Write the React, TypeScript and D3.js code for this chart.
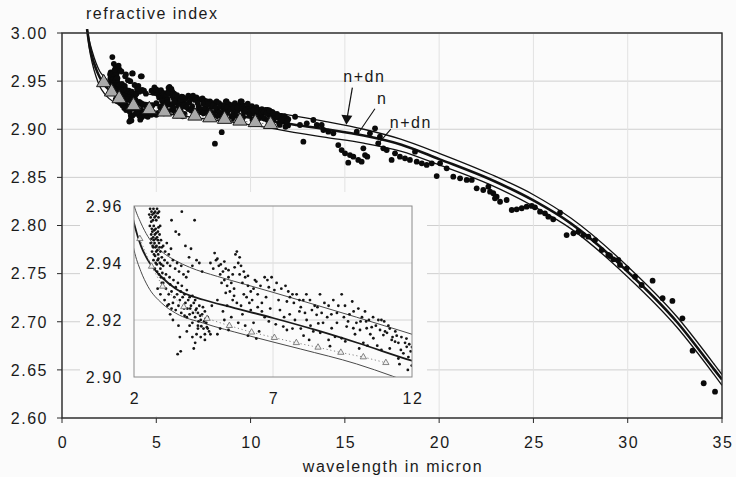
import React from 'react';
import * as d3 from 'd3';

type P = [number, number];

// ---- axis ticks ----
const xTicks = [0, 5, 10, 15, 20, 25, 30, 35];
const yTicks = [2.6, 2.65, 2.7, 2.75, 2.8, 2.85, 2.9, 2.95, 3.0];
const insetXTicks = [2, 7, 12];
const insetYTicks = [2.9, 2.92, 2.94, 2.96];

// ---- model curves (wavelength µm, refractive index) ----
const curveN: P[] = [[1.33,3.004],[1.45,2.988],[1.6,2.975],[1.8,2.963],[2.0,2.954],[2.25,2.946],[2.5,2.941],[3.0,2.935],[3.5,2.931],[4.5,2.9271],[5.5,2.9245],[7,2.9207],[8.5,2.9166],[10,2.9121],[12,2.9057],[14,2.9],[16,2.8935],[18,2.884],[20,2.869],[22.7,2.848],[25,2.826],[27,2.802],[30,2.752],[32.6,2.7],[34.6,2.65],[35,2.64]];
const curveUpper: P[] = [[1.33,3.004],[1.45,2.992],[1.6,2.981],[1.8,2.969],[2.0,2.9603],[2.25,2.954],[2.5,2.9493],[3,2.944],[3.5,2.9408],[4,2.9385],[5,2.9353],[6,2.9325],[7,2.9297],[8.5,2.9254],[10,2.921],[11,2.918],[12,2.915],[14,2.908],[16,2.9],[18,2.8895],[20,2.875],[22.7,2.8535],[25,2.832],[27,2.8075],[30,2.7575],[32.6,2.7055],[34.6,2.6555],[35,2.645]];
const curveLower: P[] = [[1.33,3.004],[1.45,2.984],[1.6,2.969],[1.8,2.955],[2.0,2.9446],[2.25,2.937],[2.5,2.9318],[3,2.9259],[3.5,2.9224],[4.5,2.9189],[6,2.9148],[8,2.9098],[10,2.9046],[11.3,2.9003],[12,2.8978],[14,2.8915],[16,2.8855],[18,2.877],[20,2.863],[22.7,2.8425],[25,2.82],[27,2.7965],[30,2.7465],[32.6,2.6945],[34.6,2.6445],[35,2.634]];

// ---- triangles (reference values) ----
const triangles: P[] = [[2.21,2.9485],[2.63,2.9388],[3.03,2.9318],[3.79,2.9246],[4.63,2.9205],[5.43,2.918],[6.23,2.9157],[7.05,2.9138],[7.84,2.912],[8.62,2.9104],[9.44,2.9086],[10.25,2.907],[11.06,2.905]];

// ---- measured points ----
const denseDots: P[] = [
[2.58,2.959],[2.63,2.958],[2.70,2.959],[2.76,2.958],[2.83,2.959],[2.60,2.956],[2.68,2.955],[2.74,2.956],[2.80,2.955],[2.88,2.956],
[2.57,2.953],[2.64,2.952],[2.71,2.953],[2.78,2.952],[2.86,2.951],[2.62,2.950],[2.69,2.949],[2.75,2.950],[2.83,2.949],[2.92,2.950],
[2.60,2.947],[2.67,2.946],[2.74,2.947],[2.81,2.946],[2.90,2.947],[2.65,2.944],[2.72,2.943],[2.80,2.944],[2.87,2.943],[2.95,2.944],
[2.70,2.941],[2.78,2.940],[2.85,2.941],[2.93,2.940],[3.00,2.942],[2.75,2.938],[2.83,2.937],[2.95,2.938],[3.05,2.939],[2.90,2.936],
[2.55,2.957],[2.62,2.9545],[2.66,2.957],[2.72,2.9575],[2.78,2.9565],[2.85,2.9575],[2.90,2.958],[2.66,2.951],[2.73,2.9515],[2.80,2.9505],
[2.88,2.9525],[2.94,2.953],[2.63,2.9485],[2.71,2.948],[2.78,2.9485],[2.86,2.948],[2.97,2.948],[2.69,2.9455],[2.77,2.9455],[2.84,2.9445],
[2.92,2.9455],[3.00,2.9455],[2.76,2.9425],[2.82,2.9395],[2.88,2.9415],[2.98,2.9395],[3.02,2.9365],[2.97,2.935],[3.08,2.9345],
[3.05,2.946],[3.12,2.944],[3.18,2.947],[3.25,2.943],[3.33,2.945],[3.10,2.941],[3.20,2.940],[3.30,2.939],[3.40,2.941],[3.48,2.938],
[3.55,2.940],[3.62,2.937],[3.70,2.939],[3.78,2.936],[3.88,2.935],[3.95,2.937],[3.15,2.936],[3.28,2.935],[3.42,2.934],[3.58,2.933],[3.72,2.932],
[3.05,2.933],[3.15,2.931],[3.25,2.929],[3.35,2.930],[3.45,2.928],[3.55,2.929],[3.65,2.927],[3.75,2.928],[3.85,2.926],[3.95,2.927],
[4.05,2.925],[4.15,2.926],[4.25,2.924],[4.35,2.925],[4.45,2.922],[4.55,2.923],[3.40,2.926],[3.60,2.925],[3.80,2.924],[4.00,2.922],
[4.20,2.921],[4.40,2.920],[4.60,2.919],[4.10,2.919],[4.30,2.918],[4.50,2.917],[4.65,2.921],[3.90,2.921],[4.70,2.916],[4.55,2.915],
[3.30,2.9325],[3.50,2.9315],[3.68,2.930],[3.82,2.929],[3.90,2.9305],[4.00,2.928],[4.10,2.9285],[4.20,2.927],[4.30,2.9225],[4.38,2.9215],
[4.48,2.9245],[4.58,2.9205],[4.62,2.9175],[4.52,2.9195],[4.42,2.9178],[4.32,2.9195],[4.22,2.9235],[4.12,2.9225],[4.02,2.924],[3.92,2.924],
[3.82,2.9215],[3.70,2.9225],[3.50,2.9235],[3.35,2.924],[3.25,2.9255],
[2.85,2.931],[2.95,2.929],[3.10,2.927],[3.20,2.925],[3.00,2.933],
[3.35,2.955],[3.72,2.958],[4.18,2.955],[3.62,2.950],[3.50,2.951],[3.85,2.946],[4.05,2.945],[4.25,2.941],[4.35,2.940],[4.45,2.937],[4.10,2.939],[3.98,2.942],
[3.57,2.908],[3.68,2.909],[3.65,2.914],[4.15,2.910],[4.20,2.912],[4.10,2.914],[4.25,2.915],[4.40,2.914],[4.55,2.913],[4.65,2.917],[4.75,2.915],[3.90,2.916],[4.00,2.918],[4.30,2.917],[3.40,2.920],[3.30,2.922],[3.60,2.918]
];
const clusterDots: P[] = [
[4.75,2.940],[4.85,2.938],[4.95,2.941],[5.05,2.939],[5.10,2.936],[5.20,2.937],[5.15,2.933],[5.25,2.934],[5.35,2.932],[5.30,2.938],
[5.40,2.935],[5.50,2.933],[5.45,2.930],[5.60,2.931],[5.70,2.944],[5.65,2.943],[5.75,2.940],[5.85,2.939],[5.95,2.937],[5.80,2.936],
[5.90,2.933],[6.00,2.935],[6.10,2.932],[6.20,2.930],[6.05,2.928],[6.15,2.926],[6.25,2.927],[5.55,2.927],[5.70,2.926],[5.85,2.925],
[6.35,2.934],[6.45,2.929],[6.55,2.932],[6.70,2.935],[6.80,2.934],[6.60,2.926],[6.75,2.928],[6.90,2.924],[4.80,2.925],[5.00,2.927],
[5.20,2.923],[5.35,2.925],[5.00,2.915],[5.10,2.917],[5.50,2.921],[5.75,2.919],[6.00,2.918],[6.30,2.919],[6.50,2.916],[6.70,2.921],
[4.90,2.9435],[5.00,2.9415],[5.12,2.9395],[5.25,2.9405],[5.40,2.9375],[5.55,2.936],[5.62,2.9385],[5.80,2.942],[6.10,2.9355],[6.30,2.931],
[6.40,2.9335],[6.85,2.9315],[5.30,2.9295],[5.60,2.9285],[5.95,2.929],[6.20,2.9235],[6.45,2.9245],[6.60,2.923],[6.85,2.9195],[5.90,2.922],
[5.25,2.920],[5.40,2.9165],[6.10,2.9145],[6.40,2.9135]
];
const tailDots: P[] = [
[6.95,2.935],[7.13,2.933],[7.30,2.931],[7.45,2.932],[7.55,2.930],[7.61,2.928],[7.70,2.929],[7.85,2.929],[7.95,2.927],[8.09,2.927],
[8.20,2.929],[8.33,2.927],[8.50,2.925],[8.69,2.929],[8.85,2.926],[9.00,2.925],[9.17,2.927],[9.35,2.925],[9.47,2.929],[9.59,2.925],
[9.75,2.922],[9.90,2.923],[10.07,2.924],[10.20,2.921],[10.31,2.923],[10.45,2.920],[10.60,2.921],[10.79,2.920],[10.90,2.920],[11.03,2.916],
[11.15,2.918],[11.27,2.913],[11.40,2.916],[11.51,2.912],[11.62,2.914],[11.75,2.912],[11.87,2.907],[11.99,2.904],[11.51,2.9065],[11.20,2.910],
[7.25,2.9235],[7.40,2.921],[7.37,2.9177],[7.60,2.922],[7.79,2.920],[7.95,2.923],[8.21,2.920],[8.35,2.918],[8.57,2.9218],[8.63,2.9188],
[8.80,2.919],[9.11,2.9171],[9.23,2.9141],[9.47,2.9136],[9.65,2.9177],[9.89,2.9171],[9.95,2.915],[10.13,2.9165],[10.37,2.9171],[10.50,2.915],
[10.61,2.9136],[10.97,2.9147],[11.10,2.9155],[11.30,2.914],[11.39,2.9124],[11.81,2.9106],[11.69,2.9083],[8.00,2.917],[8.45,2.916],[9.00,2.913],
[9.30,2.919],[10.25,2.912],[10.75,2.911],[11.95,2.909],
[7.05,2.9305],[7.20,2.927],[7.50,2.9265],[7.75,2.926],[8.00,2.9245],[8.15,2.9225],[8.40,2.9235],[8.60,2.9245],[8.75,2.9225],[8.95,2.921],
[9.10,2.922],[9.30,2.9225],[9.55,2.921],[9.70,2.9195],[9.85,2.9265],[10.00,2.919],[10.15,2.9195],[10.35,2.9195],[10.55,2.9175],[10.70,2.918],
[10.85,2.9165],[11.00,2.9195],[11.20,2.917],[11.45,2.9145],[11.60,2.9095],[11.80,2.9135],[11.90,2.9115],[12.00,2.9105],[7.10,2.9185],[7.50,2.9165],
[7.70,2.917],[8.10,2.9145],[8.30,2.913],[8.70,2.9155],[9.05,2.9108],[9.60,2.9125],[10.10,2.910],[10.40,2.911],[10.90,2.9095],[11.55,2.9045],[11.85,2.9025]
];
const mainExtraDots: P[] = [[2.67,2.975],[2.75,2.968],[2.85,2.965],[2.95,2.963],[3.05,2.962],[2.8,2.962],[3.0,2.966],[3.15,2.96],[3.39,2.957],[3.75,2.958],[4.23,2.955],[3.64,2.91],[3.73,2.914],[8.11,2.885],[8.47,2.897],[8.73,2.929],[9.53,2.929]];
const midRangeDots: P[] = [
[11.65,2.9096],[11.92,2.9079],[12.36,2.913],[12.62,2.9044],[12.8,2.8871],[12.98,2.9062],[13.33,2.9096],[13.51,2.9044],[13.77,2.9044],[13.86,2.8992],
[14.12,2.8975],[14.39,2.8958],[14.65,2.8836],[14.83,2.8784],[15.01,2.875],[15.18,2.8653],[15.27,2.8732],[15.45,2.8715],[15.71,2.8681],[15.89,2.8663],
[16.07,2.8732],[16.19,2.8715],[15.98,2.8802],[15.63,2.8975],[16.33,2.8958],[16.6,2.901],[16.86,2.8923],[16.77,2.8854],[17.04,2.8802],[17.22,2.8784],
[17.48,2.8681],[17.66,2.875],[17.92,2.8715],[18.19,2.8698],[18.45,2.8681],[18.72,2.8767],[18.81,2.8663],[19.08,2.8646],[19.34,2.8629],[19.61,2.8646],
[19.87,2.8514],[20.05,2.8646],[20.4,2.8594],[20.75,2.8507],[21.11,2.849],[21.46,2.8473],[21.73,2.8473],[21.99,2.8386],[22.34,2.8369],[22.61,2.8403],
[22.87,2.8335],[23.05,2.8299]
];
const farDots: P[] = [
[22.7,2.8351],[22.96,2.8282],[23.23,2.8247],[23.58,2.8265],[23.85,2.8161],[24.11,2.8168],[24.38,2.8179],[24.64,2.8196],[24.91,2.8203],[25.08,2.8189],
[25.35,2.8144],[25.61,2.8127],[25.79,2.8092],[26.05,2.8064],[26.41,2.8133],[26.76,2.7901],[27.12,2.7919],[27.38,2.7936],[27.65,2.7901],[27.91,2.7884],
[28.27,2.7849],[28.62,2.7745],[28.97,2.7694],[29.06,2.7683],[29.24,2.7649],[29.5,2.7642],[29.59,2.759],[29.95,2.7555],[30.39,2.7468],[30.74,2.7382],
[31.32,2.7427],[31.85,2.7244],[32.37,2.7216],[32.9,2.7036],[33.44,2.6699],[34.03,2.6361],[34.63,2.6273]
];

const FONT = '"Liberation Sans", Arial, Helvetica, sans-serif';

export default function App() {
  const x = d3.scaleLinear().domain([0, 35]).range([62, 722]);
  const y = d3.scaleLinear().domain([2.6, 3.0]).range([418, 33]);
  const ix = d3.scaleLinear().domain([2, 12]).range([134, 412]);
  const iy = d3.scaleLinear().domain([2.9, 2.96]).range([377, 206]);

  const mainLine = d3.line<P>().x(d => x(d[0])).y(d => y(d[1])).curve(d3.curveMonotoneX);
  const insetLine = d3.line<P>().x(d => ix(d[0])).y(d => iy(d[1])).curve(d3.curveMonotoneX);
  const triLine = d3.line<P>().x(d => x(d[0])).y(d => y(d[1]));
  const triLineInset = d3.line<P>().x(d => ix(d[0])).y(d => iy(d[1]));
  const bigTri = d3.symbol(d3.symbolTriangle, 88)()!;
  const smallTri = d3.symbol(d3.symbolTriangle, 17)()!;

  const insetData = [...denseDots, ...clusterDots, ...tailDots];
  const mainDots = [...insetData, ...mainExtraDots, ...midRangeDots, ...farDots];

  const [x0, x1] = x.range();
  const [yb, yt] = y.range();
  const txt = { fontFamily: FONT, fontSize: 16, letterSpacing: 1.5, fill: '#1a1a1a' } as const;

  // annotation anchor points (data units)
  const upTip: P = [15.08, 2.9048];
  const nTip: P = [15.8, 2.8985];
  const loTip: P = [16.75, 2.8845];

  return (
    <svg width={736} height={477} style={{ position: 'absolute', left: 0, top: 0, background: '#fbfbfb' }}>
      <defs>
        <clipPath id="insetClip"><rect x={ix(2)} y={iy(2.96)} width={ix(12) - ix(2)} height={iy(2.9) - iy(2.96)} /></clipPath>
        <clipPath id="mainClip"><rect x={x0} y={yt - 6} width={x1 - x0} height={yb - yt + 6} /></clipPath>
      </defs>
      <rect x={0} y={0} width={736} height={477} fill="#fbfbfb" />
      {/* main grid */}
      {yTicks.map(t => <line key={'gy' + t} x1={x0} x2={x1} y1={y(t)} y2={y(t)} stroke="#cfcfcf" strokeWidth={1} />)}
      {xTicks.map(t => <line key={'gx' + t} x1={x(t)} x2={x(t)} y1={yt} y2={yb} stroke="#e2e2e2" strokeWidth={1} />)}

      {/* main curves */}
      <g clipPath="url(#mainClip)" fill="none" stroke="#111">
        <path d={mainLine(curveUpper)!} strokeWidth={1.3} />
        <path d={mainLine(curveLower)!} strokeWidth={1.3} />
        <path d={mainLine(curveN)!} strokeWidth={2.6} />
      </g>
      {/* main dots */}
      <g fill="#0a0a0a">
        {mainDots.map((d, i) => <circle key={'m' + i} cx={x(d[0])} cy={y(d[1])} r={2.9} />)}
      </g>
      <path d={triLine(triangles)!} fill="none" stroke="#777" strokeWidth={1} strokeDasharray="1.5,2.5" />
      {triangles.map((d, i) => (
        <path key={'t' + i} d={bigTri} transform={`translate(${x(d[0])},${y(d[1])})`} fill="#a9a9a9" stroke="#1a1a1a" strokeWidth={1} />
      ))}

      {/* axes frame */}
      <rect x={x0} y={yt} width={x1 - x0} height={yb - yt} fill="none" stroke="#2a2a2a" strokeWidth={1.4} />
      {yTicks.map(t => <line key={'ty' + t} x1={x0 - 5} x2={x0} y1={y(t)} y2={y(t)} stroke="#2a2a2a" />)}
      {xTicks.map(t => <line key={'tx' + t} x1={x(t)} x2={x(t)} y1={yb} y2={yb + 5} stroke="#2a2a2a" />)}
      {yTicks.map(t => (
        <text key={'ly' + t} x={48} y={y(t)} dy="0.36em" textAnchor="end" {...txt}>{t.toFixed(2)}</text>
      ))}
      {xTicks.map(t => (
        <text key={'lx' + t} x={x(t) + 1} y={448} textAnchor="middle" {...txt}>{t}</text>
      ))}
      <text x={86} y={19} {...txt}>refractive index</text>
      <text x={393} y={472} textAnchor="middle" {...txt}>wavelength in micron</text>

      {/* annotations */}
      <text x={x(upTip[0]) - 3} y={y(upTip[1]) - 43} {...txt}>n+dn</text>
      <line x1={x(upTip[0]) + 6} y1={y(upTip[1]) - 37} x2={x(upTip[0]) + 1} y2={y(upTip[1]) - 8} stroke="#111" strokeWidth={1.2} />
      <path d={`M${x(upTip[0]) - 5},${y(upTip[1]) - 10}L${x(upTip[0]) + 6},${y(upTip[1]) - 9}L${x(upTip[0])},${y(upTip[1])}Z`} fill="#111" />
      <text x={x(nTip[0]) + 17} y={y(nTip[1]) - 27} {...txt}>n</text>
      <line x1={x(nTip[0]) + 15} y1={y(nTip[1]) - 22} x2={x(nTip[0])} y2={y(nTip[1])} stroke="#111" strokeWidth={1.1} />
      <text x={x(loTip[0]) + 12} y={y(loTip[1]) - 16} {...txt}>n+dn</text>
      <line x1={x(loTip[0]) + 13} y1={y(loTip[1]) - 15} x2={x(loTip[0])} y2={y(loTip[1])} stroke="#111" strokeWidth={1.1} />

      {/* inset */}
      <rect x={80} y={192} width={347} height={224} fill="#fbfbfb" />
      {insetYTicks.slice(1, 3).map(t => <line key={'igy' + t} x1={ix(2)} x2={ix(12)} y1={iy(t)} y2={iy(t)} stroke="#d4d4d4" />)}
      <line x1={ix(7)} x2={ix(7)} y1={iy(2.96)} y2={iy(2.9)} stroke="#e0e0e0" />
      <g clipPath="url(#insetClip)">
        <path d={insetLine(curveUpper)!} fill="none" stroke="#4a4a4a" strokeWidth={1} />
        <path d={insetLine(curveLower)!} fill="none" stroke="#4a4a4a" strokeWidth={1} />
        <path d={insetLine(curveN)!} fill="none" stroke="#1a1a1a" strokeWidth={1.8} />
        {insetData.map((d, i) => <circle key={'i' + i} cx={ix(d[0])} cy={iy(d[1])} r={1.4} fill="#151515" />)}
        <path d={triLineInset(triangles)!} fill="none" stroke="#888" strokeWidth={1} strokeDasharray="1.2,2.6" />
        {triangles.map((d, i) => (
          <path key={'it' + i} d={smallTri} transform={`translate(${ix(d[0])},${iy(d[1])})`} fill="#f0f0f0" stroke="#666" strokeWidth={0.8} />
        ))}
      </g>
      <rect x={ix(2)} y={iy(2.96)} width={ix(12) - ix(2)} height={iy(2.9) - iy(2.96)} fill="none" stroke="#8a8a8a" strokeWidth={1} />
      {insetYTicks.map(t => (
        <text key={'iy' + t} x={123} y={iy(t)} dy="0.36em" textAnchor="end" {...txt}>{t.toFixed(2)}</text>
      ))}
      {insetXTicks.map(t => (
        <text key={'ix' + t} x={ix(t) + 1} y={404} textAnchor="middle" {...txt}>{t}</text>
      ))}
    </svg>
  );
}
